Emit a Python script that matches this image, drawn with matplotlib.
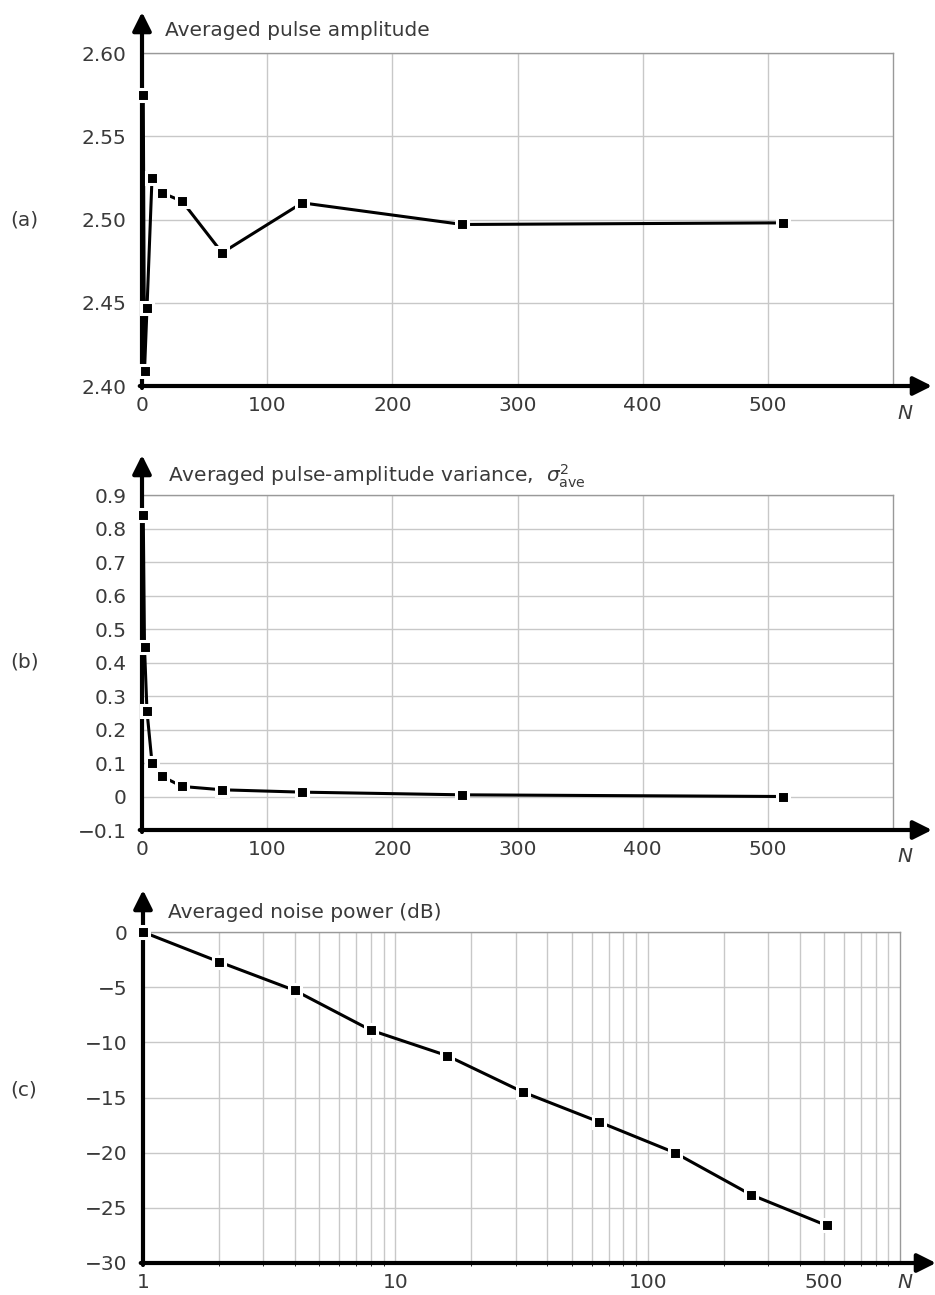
import numpy as np
import matplotlib.pyplot as plt
from matplotlib.ticker import FixedLocator, NullFormatter

plt.rcParams['font.family'] = ['DejaVu Sans']
plt.rcParams['mathtext.fontset'] = 'dejavusans'

# number of averaged pulses
n_avg = [1, 2, 4, 8, 16, 32, 64, 128, 256, 512]
# (a) averaged pulse amplitude
amplitude = [2.575, 2.409, 2.447, 2.525, 2.516, 2.511, 2.480, 2.510, 2.497, 2.498]
# (b) averaged pulse-amplitude variance
variance = [0.84, 0.445, 0.254, 0.10, 0.06, 0.03, 0.02, 0.013, 0.005, 0.0]
# (c) averaged noise power in dB
noise_db = [0.0, -2.7, -5.3, -8.9, -11.2, -14.5, -17.2, -20.0, -23.8, -26.6]

W, H = 935, 1295
fig = plt.figure(figsize=(W / 100, H / 100), dpi=100)
TXT = '#3a3a3a'
GRID = '#c8c8c8'
FS = 14.5


def px_axes(left, right, top, bottom):
    # axes placed by pixel edges of the picture
    return fig.add_axes([left / W, 1 - bottom / H, (right - left) / W, (bottom - top) / H])


def decorate(ax, left, right, top, bottom, x_tip, y_tip):
    for s in ['top', 'right']:
        ax.spines[s].set_color('#999999')
        ax.spines[s].set_linewidth(1.0)
    ax.spines['left'].set_visible(False)
    ax.spines['bottom'].set_visible(False)
    ax.tick_params(length=0, labelsize=FS, colors=TXT)
    ax.tick_params(axis='y', pad=11)
    ax.tick_params(axis='x', pad=7)
    ax.grid(True, which='both', color=GRID, lw=1.0)
    ax.set_axisbelow(True)
    # thick axes with arrow heads
    xt = (x_tip - left) / (right - left)
    yt = (bottom - y_tip) / (bottom - top)
    arrow = dict(arrowstyle='-|>', lw=3, color='black', mutation_scale=28,
                 shrinkA=0, shrinkB=0)
    ax.annotate('', xy=(xt, 0), xytext=(-0.003, 0), xycoords='axes fraction',
                arrowprops=arrow, annotation_clip=False)
    ax.annotate('', xy=(0, yt), xytext=(0, -0.006), xycoords='axes fraction',
                arrowprops=arrow, annotation_clip=False)


def plot_series(ax, x, y):
    ax.plot(x, y, color='black', lw=2.2, marker='s', ms=8, mfc='black',
            mec='white', mew=2.2, clip_on=False, zorder=5)


def ftext(x, y, s, **kw):
    fig.text(x / W, 1 - y / H, s, color=TXT, **kw)


# (a)
ax1 = px_axes(142, 893, 53, 386)
plot_series(ax1, n_avg, amplitude)
ax1.set_xlim(0, 600)
ax1.set_ylim(2.40, 2.60)
ax1.set_xticks([0, 100, 200, 300, 400, 500])
ax1.set_yticks([2.40, 2.45, 2.50, 2.55, 2.60])
ax1.set_yticklabels(['2.40', '2.45', '2.50', '2.55', '2.60'])
decorate(ax1, 142, 893, 53, 386, 932, 12)
ftext(165, 31, 'Averaged pulse amplitude', fontsize=FS, va='center')
ftext(10, 220, '(a)', fontsize=FS, va='center')
ftext(897, 413, 'N', fontsize=FS, style='italic', va='center')

# (b)
ax2 = px_axes(142, 893, 495, 830)
plot_series(ax2, n_avg, variance)
ax2.set_xlim(0, 600)
ax2.set_ylim(-0.1, 0.9)
ax2.set_xticks([0, 100, 200, 300, 400, 500])
yb = np.round(np.arange(-0.1, 0.95, 0.1), 1)
ax2.set_yticks(yb)
ax2.set_yticklabels(['\u22120.1' if v < 0 else ('0' if v == 0 else f'{v:.1f}') for v in yb])
decorate(ax2, 142, 893, 495, 830, 932, 455)
ftext(168, 476, r'Averaged pulse-amplitude variance,  $\sigma^{2}_{\mathrm{ave}}$',
      fontsize=FS, va='center')
ftext(10, 662, '(b)', fontsize=FS, va='center')
ftext(897, 857, 'N', fontsize=FS, style='italic', va='center')

# (c)
ax3 = px_axes(143, 900, 932, 1263)
plot_series(ax3, n_avg, noise_db)
ax3.set_xscale('log')
ax3.set_xlim(1, 1000)
ax3.set_ylim(-30, 0)
ax3.xaxis.set_major_locator(FixedLocator([1, 10, 100, 500]))
ax3.xaxis.set_minor_locator(FixedLocator([d * m for d in (1, 10, 100) for m in range(2, 10)]))
ax3.xaxis.set_minor_formatter(NullFormatter())
ax3.set_xticklabels(['1', '10', '100', '500'])
yc = list(range(-30, 1, 5))
ax3.set_yticks(yc)
ax3.set_yticklabels([('\u2212' + str(-v)) if v < 0 else '0' for v in yc])
decorate(ax3, 143, 900, 932, 1263, 936, 890)
ftext(168, 912, 'Averaged noise power (dB)', fontsize=FS, va='center')
ftext(10, 1090, '(c)', fontsize=FS, va='center')
ftext(897, 1282, 'N', fontsize=FS, style='italic', va='center')

fig.savefig('out.png', dpi=100)
